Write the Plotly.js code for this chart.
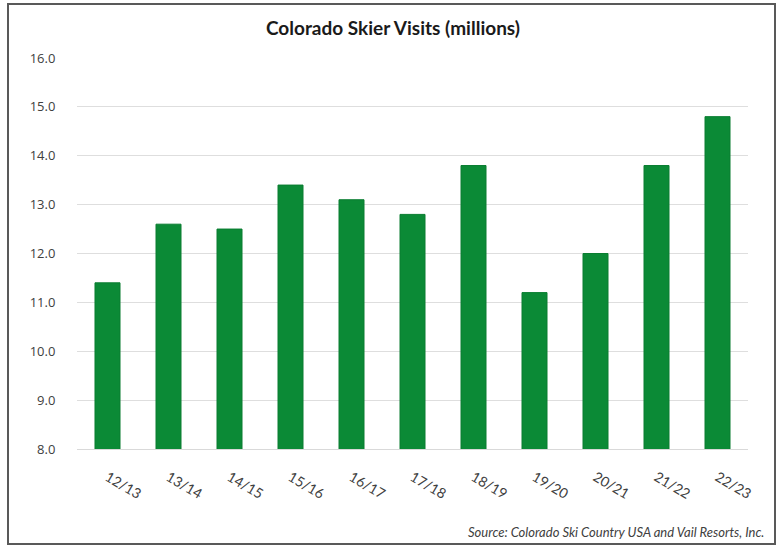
<!DOCTYPE html>
<html>
<head>
<meta charset="utf-8">
<script src="https://cdn.plot.ly/plotly-3.0.1.min.js"></script>
<style>html,body{margin:0;padding:0;background:#fff;}#chart{width:778px;height:552px;}</style>
</head>
<body>
<div id="chart"></div>
<script>
const seasons = ["12/13","13/14","14/15","15/16","16/17","17/18","18/19","19/20","20/21","21/22","22/23"];
const visits = [11.4, 12.6, 12.5, 13.4, 13.1, 12.8, 13.8, 11.2, 12.0, 13.8, 14.8];
const yTicks = [8,9,10,11,12,13,14,15,16];
const titleText = "Colorado Skier Visits (millions)";
const sourceText = "Source: Colorado Ski Country USA and Vail Resorts, Inc.";

const W = 778, H = 552;
const L = 77, R = 30, T = 58, B = 103;
const pw = W - L - R, ph = H - T - B;
const px = v => (v - L) / pw;
const py = v => (H - B - v) / ph;

const trace = {
  type: "bar",
  x: seasons,
  y: visits,
  base: 0,
  marker: {color: "#0b8a36", line: {color: "#0a7d31", width: 1}},
  hoverinfo: "x+y"
};

const font = "Lato, 'Open Sans', 'Noto Sans', sans-serif";
const font2 = "'Open Sans', 'Noto Sans', sans-serif";

const layout = {
  width: W, height: H,
  margin: {l: L, r: R, t: T, b: B},
  paper_bgcolor: "#ffffff",
  plot_bgcolor: "#ffffff",
  bargap: 0.59,
  showlegend: false,
  font: {family: font, color: "#404040", size: 12},
  title: {
    text: "<b>" + titleText + "</b>",
    font: {family: font, size: 19, color: "#1a1a1a"},
    x: 393 / W, xanchor: "center", xref: "container",
    y: 1 - 28 / H, yanchor: "middle", yref: "container"
  },
  xaxis: {
    type: "category",
    tickangle: 30,
    ticks: "outside", ticklen: 14, tickcolor: "rgba(0,0,0,0)",
    tickfont: {family: font, size: 14, color: "#404040"},
    showgrid: false,
    showline: true, linecolor: "#d9d9d9", linewidth: 1,
    zeroline: false
  },
  yaxis: {
    range: [8, 16],
    tickvals: yTicks,
    tickformat: ".1f",
    ticks: "outside", ticklen: 18, tickcolor: "rgba(0,0,0,0)",
    tickfont: {family: font2, size: 13, color: "#404040"},
    showgrid: true, gridcolor: "#dedede", gridwidth: 1,
    zeroline: false, showline: false
  },
  annotations: [{
    text: "<i>" + sourceText + "</i>",
    xref: "paper", yref: "paper",
    x: px(766), y: py(532),
    xanchor: "right", yanchor: "middle",
    showarrow: false,
    font: {family: font, size: 13, color: "#404040"}
  }],
  shapes: [{
    type: "rect", xref: "paper", yref: "paper",
    x0: px(8), x1: px(775), y0: py(544), y1: py(4),
    line: {color: "#595959", width: 2},
    fillcolor: "rgba(0,0,0,0)", layer: "below"
  }]
};

Plotly.newPlot("chart", [trace], layout, {staticPlot: true, displayModeBar: false});
</script>
</body>
</html>
